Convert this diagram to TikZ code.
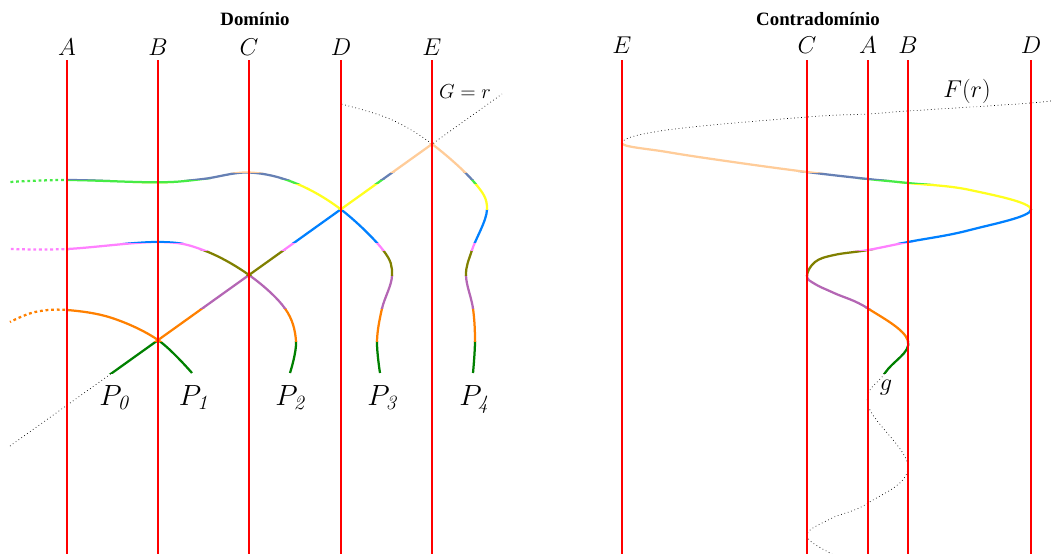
\documentclass[tikz,border=0pt]{standalone}
\usepackage{fontspec}
\newfontfamily\titlefont{Liberation Serif}
\definecolor{bA}{RGB}{0,128,0}
\definecolor{bB}{RGB}{255,128,0}
\definecolor{bC}{RGB}{180,102,180}
\definecolor{bD}{RGB}{128,128,0}
\definecolor{bE}{RGB}{255,128,255}
\definecolor{bF}{RGB}{0,128,255}
\definecolor{bG}{RGB}{255,255,30}
\definecolor{bH}{RGB}{70,235,70}
\definecolor{bI}{RGB}{102,128,180}
\definecolor{bJ}{RGB}{255,204,153}
\definecolor{vred}{RGB}{255,0,0}
\newcommand\pathPone{plot[smooth,tension=0.6] coordinates {(192,373) (158,340) (112,318) (67,310) (35,312) (10,322)}}
\newcommand\pathPtwo{plot[smooth,tension=0.6] coordinates {(290,373) (296,341) (285,308.5) (249,275) (203,250) (158,242) (67,249) (10,249)}}
\newcommand\pathPthree{plot[smooth,tension=0.6] coordinates {(380,373) (377,341) (382,308.5) (392,275.5) (383,250) (341,209.5) (295,183) (249,172.5) (203,179) (158,182.3) (67,180) (10,182)}}
\newcommand\pathPfour{plot[smooth,tension=0.6] coordinates {(473,373) (475,341) (473,308.5) (466,275.5) (472,250) (487,209.5) (474,182) (432,144) (390,119) (341,104)}}
\newcommand\pathDiag{(10,446) -- (502,94)}
\newcommand\pathImg{plot[smooth,tension=0.65] coordinates {(860,570) (835,556) (807,536) (830,519) (868,503) (908,467) (868,405) (885,373) (908,341) (868,308.5) (834,293) (815,284) (807,276) (815,262) (834,255) (868,250) (908,242) (970,230) (1031,209.5) (970,190) (908,183) (868,179) (807,172) (733,162) (667,152) (622,143) (667,130) (807,117) (868,114) (908,111) (1031,103) (1060,99)}}
\begin{document}
\begin{tikzpicture}[x=0.025cm,y=-0.025cm,
  redline/.style={draw=vred, line width=1.5pt},
  curve/.style={line width=1.6pt},
  dotc/.style={line width=1.6pt, dash pattern=on 2pt off 2pt},
  thindot/.style={black, line width=0.5pt, dotted},
  toplab/.style={font=\LARGE, anchor=base, inner sep=0pt},
  plab/.style={font=\huge, anchor=base, inner sep=0pt},
  ttl/.style={font=\titlefont\bfseries\fontsize{13.4}{16}\selectfont, anchor=base, inner sep=0pt},
  curvelab/.style={anchor=base, inner sep=0pt}]
\useasboundingbox (0,0) rectangle (1051,553);

% coloured bands
\foreach \ylo/\yhi/\cc in {341/373/bA, 308.5/341/bB, 275.5/308.5/bC, 250/275.5/bD, 242/250/bE, 209.5/242/bF, 183/209.5/bG, 179/183/bH, 172/179/bI, 143.5/172/bJ}{
  \begin{scope}
    \clip (67,\ylo) rectangle (520,\yhi);
    \draw[curve,\cc] \pathPone;
    \draw[curve,\cc] \pathPtwo;
    \draw[curve,\cc] \pathPthree;
    \draw[curve,\cc] \pathPfour;
    \draw[curve,\cc] \pathDiag;
  \end{scope}
  \begin{scope}
    \clip (600,\ylo) rectangle (1060,\yhi);
    \draw[curve,\cc] \pathImg;
  \end{scope}
}

% dotted continuations left of A
\begin{scope}
  \clip (0,0) rectangle (67,553);
  \draw[dotc,bB] \pathPone;
  \draw[dotc,bE] \pathPtwo;
  \draw[dotc,bH] \pathPthree;
\end{scope}

% thin black dotted parts
\begin{scope}
  \clip (0,373) rectangle (1060,600);
  \draw[thindot] \pathDiag;
  \draw[thindot] \pathImg;
\end{scope}
\begin{scope}
  \clip (0,0) rectangle (1060,143.5);
  \draw[thindot] \pathDiag;
  \draw[thindot] \pathPfour;
  \draw[thindot] \pathImg;
\end{scope}

% red vertical lines
\draw[redline] (67,60) -- (67,556);
\draw[redline] (158,60) -- (158,556);
\draw[redline] (249,60) -- (249,556);
\draw[redline] (341,60) -- (341,556);
\draw[redline] (432,60) -- (432,556);
\draw[redline] (622,60) -- (622,556);
\draw[redline] (807,60) -- (807,556);
\draw[redline] (868,60) -- (868,556);
\draw[redline] (908,60) -- (908,556);
\draw[redline] (1031,60) -- (1031,556);

% titles and labels
\node[ttl] (tdom) at (255,25.5) {Domínio};
\node[ttl] (tcod) at (818,25) {Contradomínio};

\node[toplab] (lA) at (67,55.5) {$A$};
\node[toplab] (lB) at (158,55.5) {$B$};
\node[toplab] (lC) at (249,55.5) {$C$};
\node[toplab] (lD) at (341,55.5) {$D$};
\node[toplab] (lE) at (432,55.5) {$E$};

\node[toplab] (rE) at (622,53.5) {$E$};
\node[toplab] (rC) at (807,53.5) {$C$};
\node[toplab] (rA) at (868,53.5) {$A$};
\node[toplab] (rB) at (908,53.5) {$B$};
\node[toplab] (rD) at (1031,53.5) {$D$};

\node[curvelab,font=\Large] (lG) at (465,98) {$G=r$};
\node[curvelab,font=\LARGE] (lF) at (967,97) {$F(r)$};
\node[curvelab,font=\LARGE] (lg) at (886,390) {$g$};

\node[plab] (p0) at (114,405) {$P_{\mathit{0}}$};
\node[plab] (p1) at (193.5,405) {$P_{\mathit{1}}$};
\node[plab] (p2) at (290,405) {$P_{\mathit{2}}$};
\node[plab] (p3) at (382,405) {$P_{\mathit{3}}$};
\node[plab] (p4) at (474,405) {$P_{\mathit{4}}$};
\end{tikzpicture}
\end{document}
